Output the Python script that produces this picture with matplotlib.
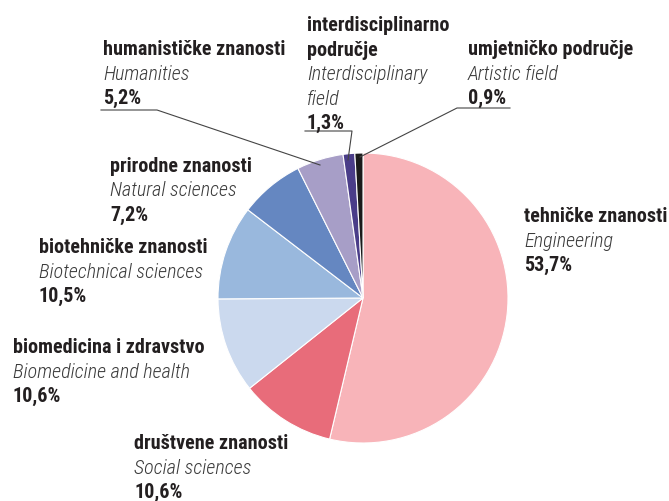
import numpy as np
import matplotlib.pyplot as plt

# shares in %, clockwise from the top
labels_hr = ['tehničke znanosti', 'društvene znanosti', 'biomedicina i zdravstvo',
             'biotehničke znanosti', 'prirodne znanosti', 'humanističke znanosti',
             'interdisciplinarno\npodručje', 'umjetničko područje']
labels_en = ['Engineering', 'Social sciences', 'Biomedicine and health',
             'Biotechnical sciences', 'Natural sciences', 'Humanities',
             'Interdisciplinary\nfield', 'Artistic field']
shares = [53.7, 10.6, 10.6, 10.5, 7.2, 5.2, 1.3, 0.9]
colors = ['#f8b4b9', '#e86c7a', '#cbd9ee', '#99b8dd', '#6587c1', '#a79ec7', '#4a3d89', '#1b1b1b']

W, H = 669, 501
fams = ['Roboto Condensed', 'DejaVu Sans']
txtc = '#231f20'

fig = plt.figure(figsize=(W/100, H/100), dpi=100)
ax = fig.add_axes([0, 0, 1, 1])

cx, cy, r = 363, 298, 145
# y axis is inverted below, so counterclock=True ends up clockwise on screen
ax.pie(shares, colors=colors, center=(cx, cy), radius=r, startangle=-90,
       counterclock=True, wedgeprops=dict(edgecolor='white', linewidth=0.8))
ax.set_xlim(0, W)
ax.set_ylim(H, 0)
ax.set_aspect('equal')
ax.axis('off')

# x and baseline y of first line of each label block
pos = [(524, 222), (134, 449), (13, 353), (39, 253), (110, 172), (103, 55), (307, 31), (468, 55)]
step = 24.5
fs = 14.5
for i in range(len(shares)):
    x, y = pos[i]
    hr = labels_hr[i].split('\n')
    en = labels_en[i].split('\n')
    k = 0
    for s in hr:
        ax.text(x, y + k*step, s, fontsize=fs, family=fams, fontweight='bold',
                color=txtc, va='baseline', ha='left')
        k += 1
    for s in en:
        ax.text(x, y + k*step, s, fontsize=fs, family=fams, style='italic',
                fontweight='light', color='#3a3a3a', va='baseline', ha='left')
        k += 1
    pct = ('%.1f' % shares[i]).replace('.', ',') + '%'
    ax.text(x, y + k*step, pct, fontsize=fs, family=fams, fontweight='bold',
            color=txtc, va='baseline', ha='left')

# leader lines for the small slices
lc = '#444444'
ax.plot([101, 157, 320], [110, 110, 165], color=lc, lw=0.8)
ax.plot([305, 352, 348], [131, 131, 160], color=lc, lw=0.8)
ax.plot([510, 457, 360], [108, 108, 157], color=lc, lw=0.8)

fig.savefig('out.png', dpi=100)
